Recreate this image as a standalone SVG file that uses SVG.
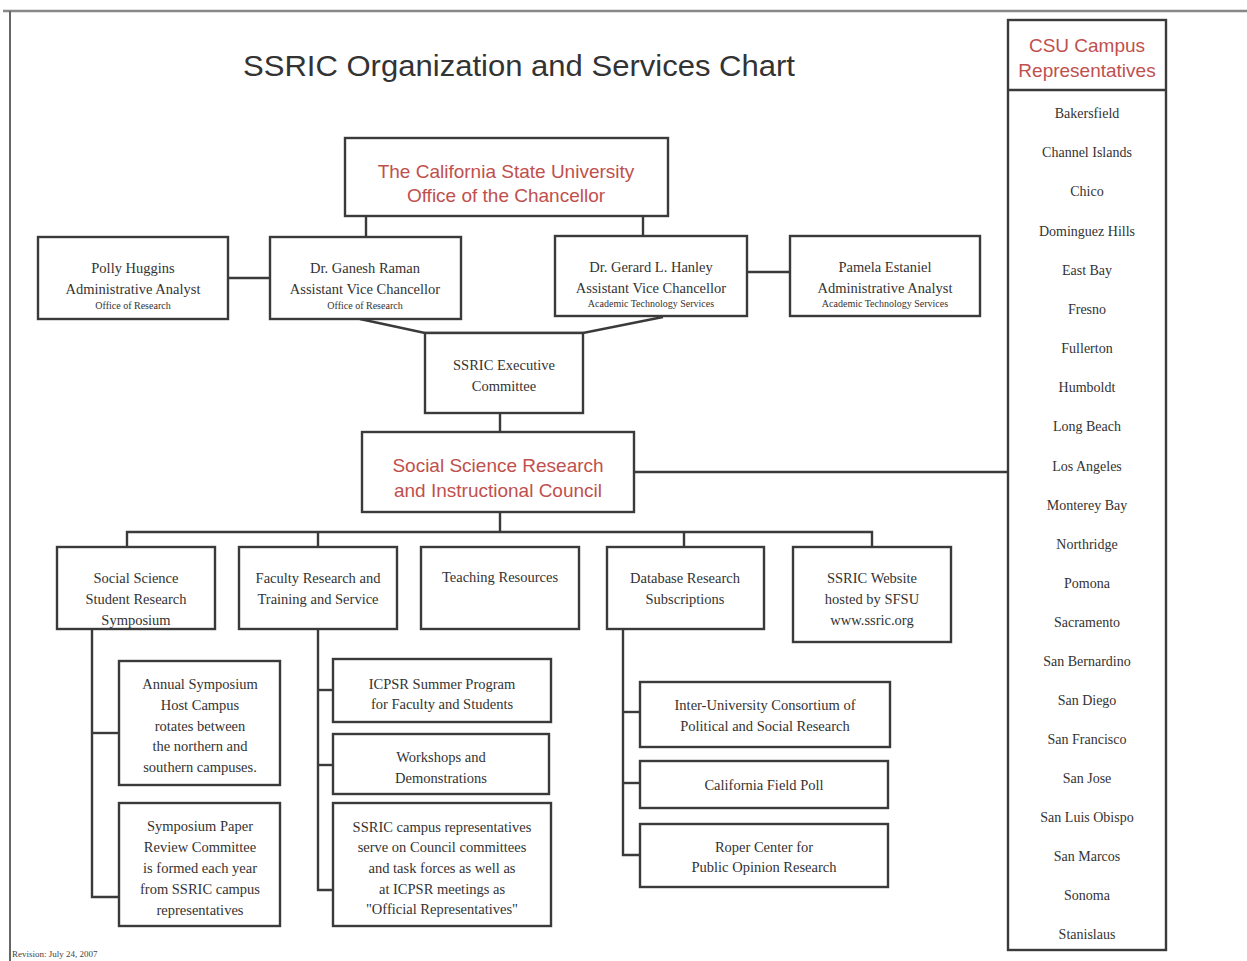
<svg xmlns="http://www.w3.org/2000/svg" width="1247" height="961" viewBox="0 0 1247 961">
<style>
.box{fill:#fff;stroke:#3a3a3a;stroke-width:2.4}
.ln{fill:none;stroke:#3a3a3a;stroke-width:2.4}
.t{font-family:"Liberation Serif",serif;font-size:14.5px;fill:#333;text-anchor:middle}
.s{font-family:"Liberation Serif",serif;font-size:10px;fill:#333;text-anchor:middle}
.r{font-family:"Liberation Sans",Arial,sans-serif;font-size:19px;fill:#c0504d;text-anchor:middle}
.c{font-family:"Liberation Serif",serif;font-size:14px;fill:#333;text-anchor:middle}
</style>
<rect x="0" y="0" width="1247" height="961" fill="#fff"/>
<g id="frame">
<line x1="3" y1="11" x2="1247" y2="11" stroke="#888" stroke-width="2.5"/>
<line x1="10" y1="11" x2="10" y2="961" stroke="#666" stroke-width="2"/>
</g>
<text id="title" x="519" y="76" font-family="Liberation Sans,Arial,sans-serif" font-size="30" fill="#333" text-anchor="middle" textLength="552" lengthAdjust="spacingAndGlyphs">SSRIC Organization and Services Chart</text>

<g id="connectors">
<line class="ln" x1="366" y1="216" x2="366" y2="237"/>
<line class="ln" x1="643" y1="216" x2="643" y2="236"/>
<line class="ln" x1="228" y1="278" x2="270" y2="278"/>
<line class="ln" x1="747" y1="272" x2="790" y2="272"/>
<polyline class="ln" points="360,319 425,333 583,333 663,317"/>
<line class="ln" x1="500" y1="413" x2="500" y2="432"/>
<line class="ln" x1="634" y1="472" x2="1008" y2="472"/>
<line class="ln" x1="500" y1="512" x2="500" y2="532"/>
<polyline class="ln" points="127,547 127,532 872,532 872,547"/>
<line class="ln" x1="318" y1="532" x2="318" y2="547"/>
<line class="ln" x1="684" y1="532" x2="684" y2="547"/>
<polyline class="ln" points="92,629 92,897 119,897"/>
<line class="ln" x1="92" y1="733" x2="119" y2="733"/>
<polyline class="ln" points="318,629 318,890 333,890"/>
<line class="ln" x1="318" y1="690" x2="333" y2="690"/>
<line class="ln" x1="318" y1="765" x2="333" y2="765"/>
<polyline class="ln" points="623,629 623,855 640,855"/>
<line class="ln" x1="623" y1="712" x2="640" y2="712"/>
<line class="ln" x1="623" y1="783" x2="640" y2="783"/>
</g>

<g id="chancellor"><rect class="box" x="345" y="138" width="323" height="78"/>
<text class="r" x="506" y="178">The California State University</text>
<text class="r" x="506" y="202">Office of the Chancellor</text></g>

<g id="polly"><rect class="box" x="38" y="237" width="190" height="82"/>
<text class="t" x="133" y="273">Polly Huggins</text>
<text class="t" x="133" y="294">Administrative Analyst</text>
<text class="s" x="133" y="309">Office of Research</text></g>

<g id="raman"><rect class="box" x="270" y="237" width="191" height="82"/>
<text class="t" x="365" y="273">Dr. Ganesh Raman</text>
<text class="t" x="365" y="294">Assistant Vice Chancellor</text>
<text class="s" x="365" y="309">Office of Research</text></g>

<g id="hanley"><rect class="box" x="555" y="236" width="192" height="80"/>
<text class="t" x="651" y="272">Dr. Gerard L. Hanley</text>
<text class="t" x="651" y="293">Assistant Vice Chancellor</text>
<text class="s" x="651" y="307">Academic Technology Services</text></g>

<g id="pamela"><rect class="box" x="790" y="236" width="190" height="80"/>
<text class="t" x="885" y="272">Pamela Estaniel</text>
<text class="t" x="885" y="293">Administrative Analyst</text>
<text class="s" x="885" y="307">Academic Technology Services</text></g>

<g id="exec"><rect class="box" x="425" y="333" width="158" height="80"/>
<text class="t" x="504" y="370">SSRIC Executive</text>
<text class="t" x="504" y="391">Committee</text></g>

<g id="council"><rect class="box" x="362" y="432" width="272" height="80"/>
<text class="r" x="498" y="472">Social Science Research</text>
<text class="r" x="498" y="497">and Instructional Council</text></g>

<g id="symposium"><rect class="box" x="57" y="547" width="158" height="82"/>
<text class="t" x="136" y="583">Social Science</text>
<text class="t" x="136" y="604">Student Research</text>
<text class="t" x="136" y="625">Symposium</text></g>

<g id="faculty"><rect class="box" x="239" y="547" width="158" height="82"/>
<text class="t" x="318" y="583">Faculty Research and</text>
<text class="t" x="318" y="604">Training and Service</text></g>

<g id="teaching"><rect class="box" x="421" y="547" width="158" height="82"/>
<text class="t" x="500" y="582">Teaching Resources</text></g>

<g id="database"><rect class="box" x="607" y="547" width="157" height="82"/>
<text class="t" x="685" y="583">Database Research</text>
<text class="t" x="685" y="604">Subscriptions</text></g>

<g id="website"><rect class="box" x="793" y="547" width="158" height="95"/>
<text class="t" x="872" y="583">SSRIC Website</text>
<text class="t" x="872" y="604">hosted by SFSU</text>
<text class="t" x="872" y="625">www.ssric.org</text></g>

<g id="annual"><rect class="box" x="119" y="661" width="161" height="124"/>
<text class="t" x="200" y="689">Annual Symposium</text>
<text class="t" x="200" y="710">Host Campus</text>
<text class="t" x="200" y="731">rotates between</text>
<text class="t" x="200" y="751">the northern and</text>
<text class="t" x="200" y="772">southern campuses.</text></g>

<g id="paper"><rect class="box" x="119" y="803" width="161" height="123"/>
<text class="t" x="200" y="831">Symposium Paper</text>
<text class="t" x="200" y="852">Review Committee</text>
<text class="t" x="200" y="873">is formed each year</text>
<text class="t" x="200" y="894">from SSRIC campus</text>
<text class="t" x="200" y="915">representatives</text></g>

<g id="icpsr-summer"><rect class="box" x="333" y="659" width="218" height="63"/>
<text class="t" x="442" y="689">ICPSR Summer Program</text>
<text class="t" x="442" y="709">for Faculty and Students</text></g>

<g id="workshops"><rect class="box" x="333" y="734" width="216" height="60"/>
<text class="t" x="441" y="762">Workshops and</text>
<text class="t" x="441" y="783">Demonstrations</text></g>

<g id="reps"><rect class="box" x="333" y="803" width="218" height="123"/>
<text class="t" x="442" y="832">SSRIC campus representatives</text>
<text class="t" x="442" y="852">serve on Council committees</text>
<text class="t" x="442" y="873">and task forces as well as</text>
<text class="t" x="442" y="894">at ICPSR meetings as</text>
<text class="t" x="442" y="914">"Official Representatives"</text></g>

<g id="icpsr"><rect class="box" x="640" y="682" width="250" height="65"/>
<text class="t" x="765" y="710">Inter-University Consortium of</text>
<text class="t" x="765" y="731">Political and Social Research</text></g>

<g id="fieldpoll"><rect class="box" x="640" y="761" width="248" height="47"/>
<text class="t" x="764" y="790">California Field Poll</text></g>

<g id="roper"><rect class="box" x="640" y="824" width="248" height="63"/>
<text class="t" x="764" y="852">Roper Center for</text>
<text class="t" x="764" y="872">Public Opinion Research</text></g>

<g id="csu-campuses">
<rect class="box" x="1008" y="20" width="158" height="930"/>
<line class="ln" x1="1008" y1="90" x2="1166" y2="90"/>
<text class="r" x="1087" y="52" font-size="18">CSU Campus</text>
<text class="r" x="1087" y="77" font-size="18">Representatives</text>
<text class="c" x="1087" y="118">Bakersfield</text>
<text class="c" x="1087" y="157">Channel Islands</text>
<text class="c" x="1087" y="196">Chico</text>
<text class="c" x="1087" y="236">Dominguez Hills</text>
<text class="c" x="1087" y="275">East Bay</text>
<text class="c" x="1087" y="314">Fresno</text>
<text class="c" x="1087" y="353">Fullerton</text>
<text class="c" x="1087" y="392">Humboldt</text>
<text class="c" x="1087" y="431">Long Beach</text>
<text class="c" x="1087" y="471">Los Angeles</text>
<text class="c" x="1087" y="510">Monterey Bay</text>
<text class="c" x="1087" y="549">Northridge</text>
<text class="c" x="1087" y="588">Pomona</text>
<text class="c" x="1087" y="627">Sacramento</text>
<text class="c" x="1087" y="666">San Bernardino</text>
<text class="c" x="1087" y="705">San Diego</text>
<text class="c" x="1087" y="744">San Francisco</text>
<text class="c" x="1087" y="783">San Jose</text>
<text class="c" x="1087" y="822">San Luis Obispo</text>
<text class="c" x="1087" y="861">San Marcos</text>
<text class="c" x="1087" y="900">Sonoma</text>
<text class="c" x="1087" y="939">Stanislaus</text>
</g>

<text id="footer" x="12" y="957" font-family="Liberation Serif,serif" font-size="9" fill="#444">Revision: July 24, 2007</text>
</svg>
